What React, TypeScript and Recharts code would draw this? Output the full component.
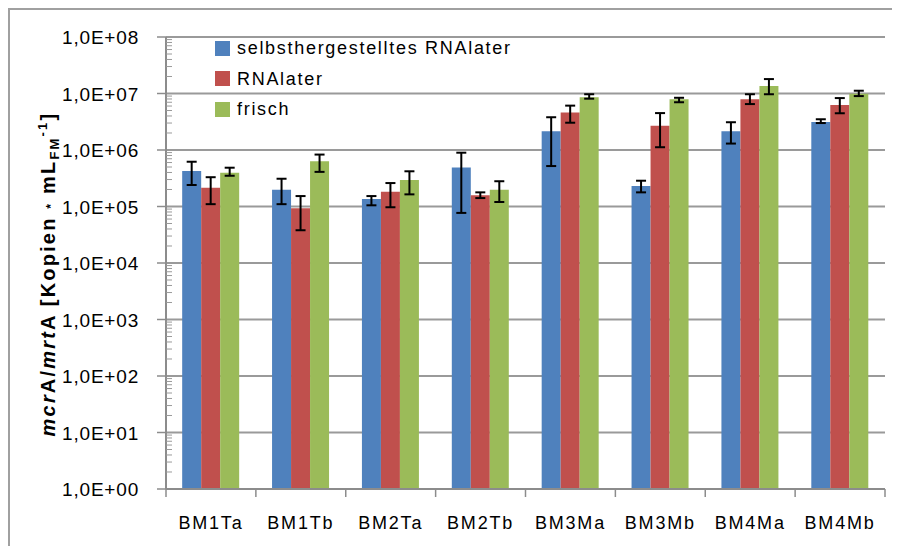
import { BarChart, Bar, XAxis, YAxis, CartesianGrid, ErrorBar } from 'recharts';

const categories = ['BM1Ta', 'BM1Tb', 'BM2Ta', 'BM2Tb', 'BM3Ma', 'BM3Mb', 'BM4Ma', 'BM4Mb'];

// selbsthergestelltes RNAlater
const selbst = [4.25e5, 1.98e5, 1.36e5, 4.9e5, 2.14e6, 2.3e5, 2.14e6, 3.13e6];
const selbstHigh = [6.2e5, 3.1e5, 1.53e5, 8.96e5, 3.8e6, 2.86e5, 3.1e6, 3.5e6];
const selbstLow = [2.4e5, 1.1e5, 1.05e5, 7.7e4, 5.2e5, 1.78e5, 1.3e6, 3.0e6];

// RNAlater
const rnalater = [2.15e5, 9.3e4, 1.83e5, 1.58e5, 4.6e6, 2.69e6, 7.9e6, 6.25e6];
const rnalaterHigh = [3.3e5, 1.53e5, 2.6e5, 1.78e5, 6.1e6, 4.5e6, 9.7e6, 8.3e6];
const rnalaterLow = [1.1e5, 3.8e4, 9.7e4, 1.41e5, 3.04e6, 1.12e6, 6.5e6, 4.47e6];

// frisch
const frisch = [3.96e5, 6.3e5, 2.95e5, 1.98e5, 8.6e6, 7.9e6, 1.36e7, 9.9e6];
const frischHigh = [4.86e5, 8.3e5, 4.2e5, 2.8e5, 9.7e6, 8.4e6, 1.8e7, 1.12e7];
const frischLow = [3.5e5, 4.1e5, 1.64e5, 1.2e5, 8.1e6, 7.0e6, 9.7e6, 9.0e6];

const decades = [1, 1e1, 1e2, 1e3, 1e4, 1e5, 1e6, 1e7, 1e8];
const minorSteps = [2, 3, 4, 5, 6, 7, 8, 9];

const series = [
    { key: 'selbst', name: 'selbsthergestelltes RNAlater', color: '#4F81BD' },
    { key: 'rnalater', name: 'RNAlater', color: '#C0504D' },
    { key: 'frisch', name: 'frisch', color: '#9BBB59' }
];

const data = categories.map((name, i) => ({
    name,
    selbst: selbst[i],
    selbstErr: [selbst[i] - selbstLow[i], selbstHigh[i] - selbst[i]],
    rnalater: rnalater[i],
    rnalaterErr: [rnalater[i] - rnalaterLow[i], rnalaterHigh[i] - rnalater[i]],
    frisch: frisch[i],
    frischErr: [frisch[i] - frischLow[i], frischHigh[i] - frisch[i]]
}));

const yTicks = [...decades, ...decades.slice(0, -1).flatMap((d) => minorSteps.map((k) => d * k))];

const CHART_W = 890;
const CHART_H = 536;
const MARGIN = { top: 27, right: 15, bottom: 17, left: 0 };
const Y_AXIS_W = 156;
const PLOT_W = CHART_W - MARGIN.left - MARGIN.right - Y_AXIS_W;
const AXIS_COLOR = '#8c8c8c';
const FONT = '"Liberation Sans", Arial, sans-serif';

const formatTick = (v: number) => `1,0E+0${Math.round(Math.log10(v))}`;

const YTick = ({ x, y, payload }: any) => {
    const v = payload.value;
    const major = decades.includes(v);
    if (!major) {
        return <line x1={x} x2={x + 6} y1={y} y2={y} stroke="#9a9a9a" strokeWidth={1} />;
    }
    return (
        <g>
            <line x1={x - 9} x2={x} y1={y} y2={y} stroke={AXIS_COLOR} strokeWidth={1.5} />
            <text x={x - 27} y={y} dy={7} textAnchor="end" fontSize={19} letterSpacing={0.8} fill="#000">
                {formatTick(v)}
            </text>
        </g>
    );
};

const XTick = ({ x, y, payload, index }: any) => {
    const half = PLOT_W / categories.length / 2;
    return (
        <g>
            <line x1={x - half} x2={x - half} y1={y} y2={y + 8} stroke={AXIS_COLOR} strokeWidth={1.5} />
            {index === categories.length - 1 && (
                <line x1={x + half} x2={x + half} y1={y} y2={y + 8} stroke={AXIS_COLOR} strokeWidth={1.5} />
            )}
            <text x={x} y={y + 40} textAnchor="middle" fontSize={18} letterSpacing={1.8} fill="#000">
                {payload.value}
            </text>
        </g>
    );
};

const YTitle = () => (
    <text
        x={45}
        y={264}
        transform="rotate(-90, 45, 264)"
        textAnchor="middle"
        fontSize={20}
        letterSpacing={2.2}
        fontWeight="bold"
        fill="#000"
    >
        <tspan fontStyle="italic">mcr</tspan>A/<tspan fontStyle="italic">mrt</tspan>A [Kopien <tspan fontSize={12}>*</tspan> mL
        <tspan fontSize={13} dy={4}>FM</tspan>
        <tspan fontSize={13} dy={-12}>-1</tspan>
        <tspan dy={8}>]</tspan>
    </text>
);

const LegendBox = () => (
    <div
        style={{
            position: 'absolute',
            left: 205,
            top: 23,
            fontFamily: FONT,
            fontSize: 18,
            letterSpacing: 1.7,
            color: '#000',
            lineHeight: 1
        }}
    >
        {series.map((s) => (
            <div key={s.key} style={{ display: 'flex', alignItems: 'center', height: 30.5 }}>
                <span style={{ width: 15, height: 15, background: s.color, marginRight: 7 }} />
                <span>{s.name}</span>
            </div>
        ))}
    </div>
);

export default function App() {
    return (
        <div
            style={{
                position: 'relative',
                width: 900,
                height: 560,
                borderLeft: '2px solid #a0a0a0',
                borderTop: '2px solid #a0a0a0',
                background: '#fff',
                fontFamily: FONT
            }}
        >
            <BarChart
                width={CHART_W}
                height={CHART_H}
                data={data}
                margin={MARGIN}
                barCategoryGap="18%"
                barGap={0}
                style={{ fontFamily: FONT }}
            >
                <CartesianGrid
                    vertical={false}
                    stroke="#9a9a9a"
                    strokeWidth={2}
                    horizontalValues={decades}
                />
                <XAxis
                    dataKey="name"
                    axisLine={{ stroke: AXIS_COLOR, strokeWidth: 2 }}
                    tickLine={false}
                    tickSize={0}
                    tickMargin={0}
                    tick={<XTick />}
                    interval={0}
                    height={40}
                />
                <YAxis
                    scale="log"
                    type="number"
                    domain={[1, 1e8]}
                    ticks={yTicks}
                    allowDataOverflow
                    interval={0}
                    width={Y_AXIS_W}
                    axisLine={{ stroke: AXIS_COLOR, strokeWidth: 2 }}
                    tickLine={false}
                    tickSize={0}
                    tickMargin={0}
                    tick={<YTick />}
                    label={{ content: () => <YTitle /> }}
                />
                {series.map((s) => (
                    <Bar key={s.key} dataKey={s.key} name={s.name} fill={s.color} isAnimationActive={false}>
                        <ErrorBar dataKey={`${s.key}Err`} width={5} stroke="#000" strokeWidth={2} />
                    </Bar>
                ))}
            </BarChart>
            <LegendBox />
        </div>
    );
}
